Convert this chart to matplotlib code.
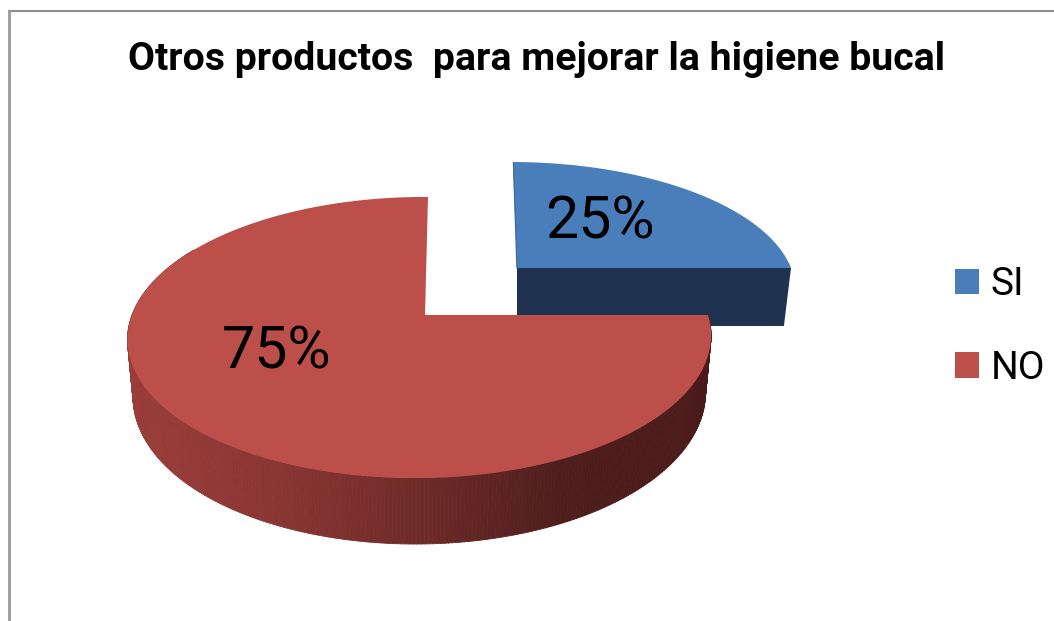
import numpy as np
import matplotlib
matplotlib.use("Agg")
import matplotlib.pyplot as plt
from matplotlib.patches import Patch, Polygon
from matplotlib.collections import PolyCollection
from matplotlib.colors import LinearSegmentedColormap
from matplotlib.lines import Line2D

title = "Otros productos  para mejorar la higiene bucal"
categories = ["SI", "NO"]
values = [25, 75]
labels = ["25%", "75%"]

BLUE, RED = "#4A7EBB", "#BC4F4A"
FONT = ["Roboto", "Liberation Sans"]

W, H = 1054, 621
fig = plt.figure(figsize=(W / 100, H / 100), dpi=100, facecolor="white")
ax = fig.add_axes([0, 0, 1, 1])
ax.set_xlim(0, W)
ax.set_ylim(H, 0)
ax.axis("off")


def homography(center, right, left, top, bottom):
    """Map the unit circle of the pie plane on to the tilted screen ellipse."""
    (cx, cy) = center
    e = ((right[0] + left[0]) - 2 * cx) / (left[0] - right[0])
    a = right[0] * (1 + e) - cx
    c = right[1] * (1 + e) - cy
    f = ((top[1] + bottom[1]) - 2 * cy) / (bottom[1] - top[1])
    d = top[1] * (1 + f) - cy
    b = top[0] * (1 + f) - cx

    def project(theta):
        u, v = np.sin(theta), np.cos(theta)
        w = 1 + e * u + f * v
        return (cx + a * u + b * v) / w, (cy + c * u + d * v) / w, v

    return project


def extrude(x, y, v, depth=55):
    return x + (418 - x) * 0.019, y + depth - 11 * v


angles = np.deg2rad(np.cumsum([0] + values) / sum(values) * 360)

# --- SI slice: pulled out of the pie
blue = homography((517, 268), (791, 268), (238, 268), (513, 162), (507, 414))
t = np.linspace(angles[0], angles[1], 120)
bx, by, bv = blue(t)
ex, ey = extrude(bx, by, bv, depth=58)
ax.add_patch(Polygon([(517, 268), (bx[-1], by[-1]), (ex[-1], ey[-1]),
                      (ex[-1] - 250, ey[-1]), (517, 326)],
                     closed=True, fc="#1F3350", ec="none", zorder=1))
ax.add_patch(Polygon(np.r_[[[517, 268]], np.c_[bx, by]], closed=True,
                     fc=BLUE, ec="none", zorder=2))
ax.plot([513.5, 517], [163, 268], color="#3F6CA3", lw=1.0, zorder=3)

# --- NO slice
red = homography((425, 315), (708, 315), (132, 318), (428, 197), (421, 478))
t = np.linspace(angles[1], angles[2], 400)
rx, ry, rv = red(t)
ex, ey = extrude(rx, ry, rv)
side = LinearSegmentedColormap.from_list(
    "side", ["#9A3D3A", "#8A3633", "#6F2B29", "#4E1E1C", "#4A1B1A"])
quads, cols = [], []
for i in range(len(t) - 1):
    if np.pi / 2 <= t[i] <= np.deg2rad(300):
        quads.append([(rx[i], ry[i]), (rx[i + 1], ry[i + 1]),
                      (ex[i + 1], ey[i + 1]), (ex[i], ey[i])])
        cols.append(side((rx[i] - 127) / 583))
ax.add_collection(PolyCollection(quads, facecolors=cols, edgecolors=cols,
                                 linewidths=0.6, zorder=4))
ax.add_patch(Polygon(np.r_[[[425, 315]], np.c_[rx, ry]], closed=True,
                     fc=RED, ec="none", zorder=5))

# --- Text
ax.text(537, 60, title, ha="center", va="center", fontsize=28.3,
        fontweight="bold", family=FONT, color="black", zorder=6)
ax.text(600, 222, labels[0], ha="center", va="center", fontsize=42.5,
        family=FONT, color="black", zorder=6)
ax.text(277, 352, labels[1], ha="center", va="center", fontsize=42.5,
        family=FONT, color="black", zorder=6)

# --- Legend
handles = [Patch(fc=BLUE, ec="none"), Patch(fc=RED, ec="none")]
leg = ax.legend(handles, categories, loc="upper left",
                bbox_to_anchor=(955 / W, 1 - 266 / H), frameon=False,
                borderpad=0, borderaxespad=0,
                handlelength=0.62, handleheight=0.62, handletextpad=0.29,
                labelspacing=1.2, prop={"family": FONT, "size": 28})

# --- Chart frame (only top and left visible)
ax.add_line(Line2D([8.5, W], [10.5, 10.5], color="#8C8C8C", lw=1.5, zorder=0))
ax.add_line(Line2D([8.5, 8.5], [10.5, H], color="#9A9A9A", lw=2, zorder=0))

fig.savefig("out.png", dpi=100, facecolor="white")
